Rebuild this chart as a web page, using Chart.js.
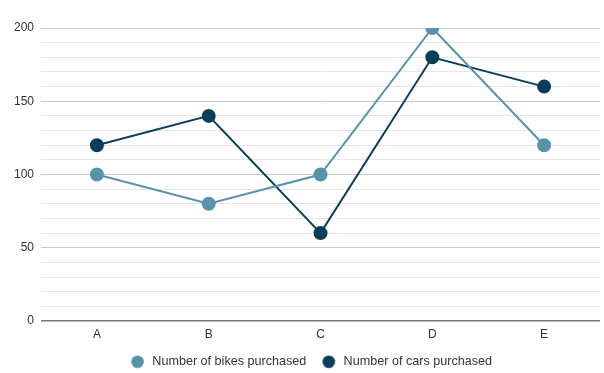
<!DOCTYPE html>
<html>
<head>
<meta charset="utf-8">
<script src="https://cdn.jsdelivr.net/npm/chart.js@4"></script>
<style>
  body { margin: 0; background: #fff; }
  #wrap { width: 604px; height: 373px; overflow: hidden; }
</style>
</head>
<body>
<div id="wrap"><canvas id="chart" width="608" height="373"></canvas></div>
<script>
const categories = ['A', 'B', 'C', 'D', 'E'];
const bikes = [100, 80, 100, 200, 120];
const cars = [120, 140, 60, 180, 160];
const yTickLabels = [0, 50, 100, 150, 200];

const bikeColor = '#5893ab';
const carColor = '#0a3e5a';

// legend dot with some empty room on its sides so the text sits further away
function legendDot(color) {
  const c = document.createElement('canvas');
  c.width = 23;
  c.height = 14;
  const g = c.getContext('2d');
  g.fillStyle = color;
  g.beginPath();
  g.arc(14.5, 7, 6.3, 0, Math.PI * 2);
  g.fill();
  return c;
}
const legendDots = [legendDot(bikeColor), legendDot(carColor)];

// the point sitting on the top line is cut by the plot edge in the original
const clipTopPlugin = {
  id: 'clipTop',
  beforeDatasetsDraw(chart) {
    const a = chart.chartArea;
    chart.ctx.save();
    chart.ctx.beginPath();
    chart.ctx.rect(0, a.top, chart.width, chart.height - a.top);
    chart.ctx.clip();
  },
  afterDatasetsDraw(chart) {
    chart.ctx.restore();
  }
};

const ctx = document.getElementById('chart').getContext('2d');
new Chart(ctx, {
  type: 'line',
  plugins: [clipTopPlugin],
  data: {
    labels: categories,
    datasets: [
      {
        label: 'Number of bikes purchased',
        data: bikes,
        borderColor: bikeColor,
        backgroundColor: bikeColor,
        borderWidth: 2,
        pointRadius: 6,
        pointHoverRadius: 6,
        tension: 0
      },
      {
        label: 'Number of cars purchased',
        data: cars,
        borderColor: carColor,
        backgroundColor: carColor,
        borderWidth: 2,
        pointRadius: 6,
        pointHoverRadius: 6,
        tension: 0
      }
    ]
  },
  options: {
    responsive: false,
    animation: false,
    layout: { padding: { left: 7, right: 0, top: 28, bottom: -5 } },
    plugins: {
      tooltip: { enabled: false },
      legend: {
        position: 'bottom',
        labels: {
          usePointStyle: true,
          pointStyleWidth: 23,
          boxHeight: 12,
          padding: 8,
          color: '#333',
          font: { family: 'Liberation Sans, Arial', size: 12.6 },
          generateLabels: chart =>
            Chart.defaults.plugins.legend.labels.generateLabels(chart)
              .map((item, i) => ({ ...item, pointStyle: legendDots[i] }))
        }
      }
    },
    scales: {
      x: {
        offset: true,
        afterFit: s => { s.paddingLeft = 0; s.paddingRight = 0; },
        grid: { display: false, drawTicks: false },
        border: { display: false },
        ticks: {
          padding: 6,
          color: '#333',
          font: { family: 'Liberation Sans, Arial', size: 12 }
        }
      },
      y: {
        min: 0,
        max: 200,
        border: { display: false },
        grid: {
          drawTicks: false,
          lineWidth: c => c.tick.value === 0 ? 1.5 : 1,
          color: c => {
            if (c.tick.value === 0) return '#777';
            return c.tick.value % 50 === 0 ? '#cacaca' : '#e6e6e6';
          }
        },
        ticks: {
          stepSize: 10,
          autoSkip: false,
          padding: 7,
          color: '#333',
          font: { family: 'Liberation Sans, Arial', size: 12 },
          callback: v => yTickLabels.includes(v) ? String(v) : ''
        }
      }
    }
  }
});
</script>
</body>
</html>
